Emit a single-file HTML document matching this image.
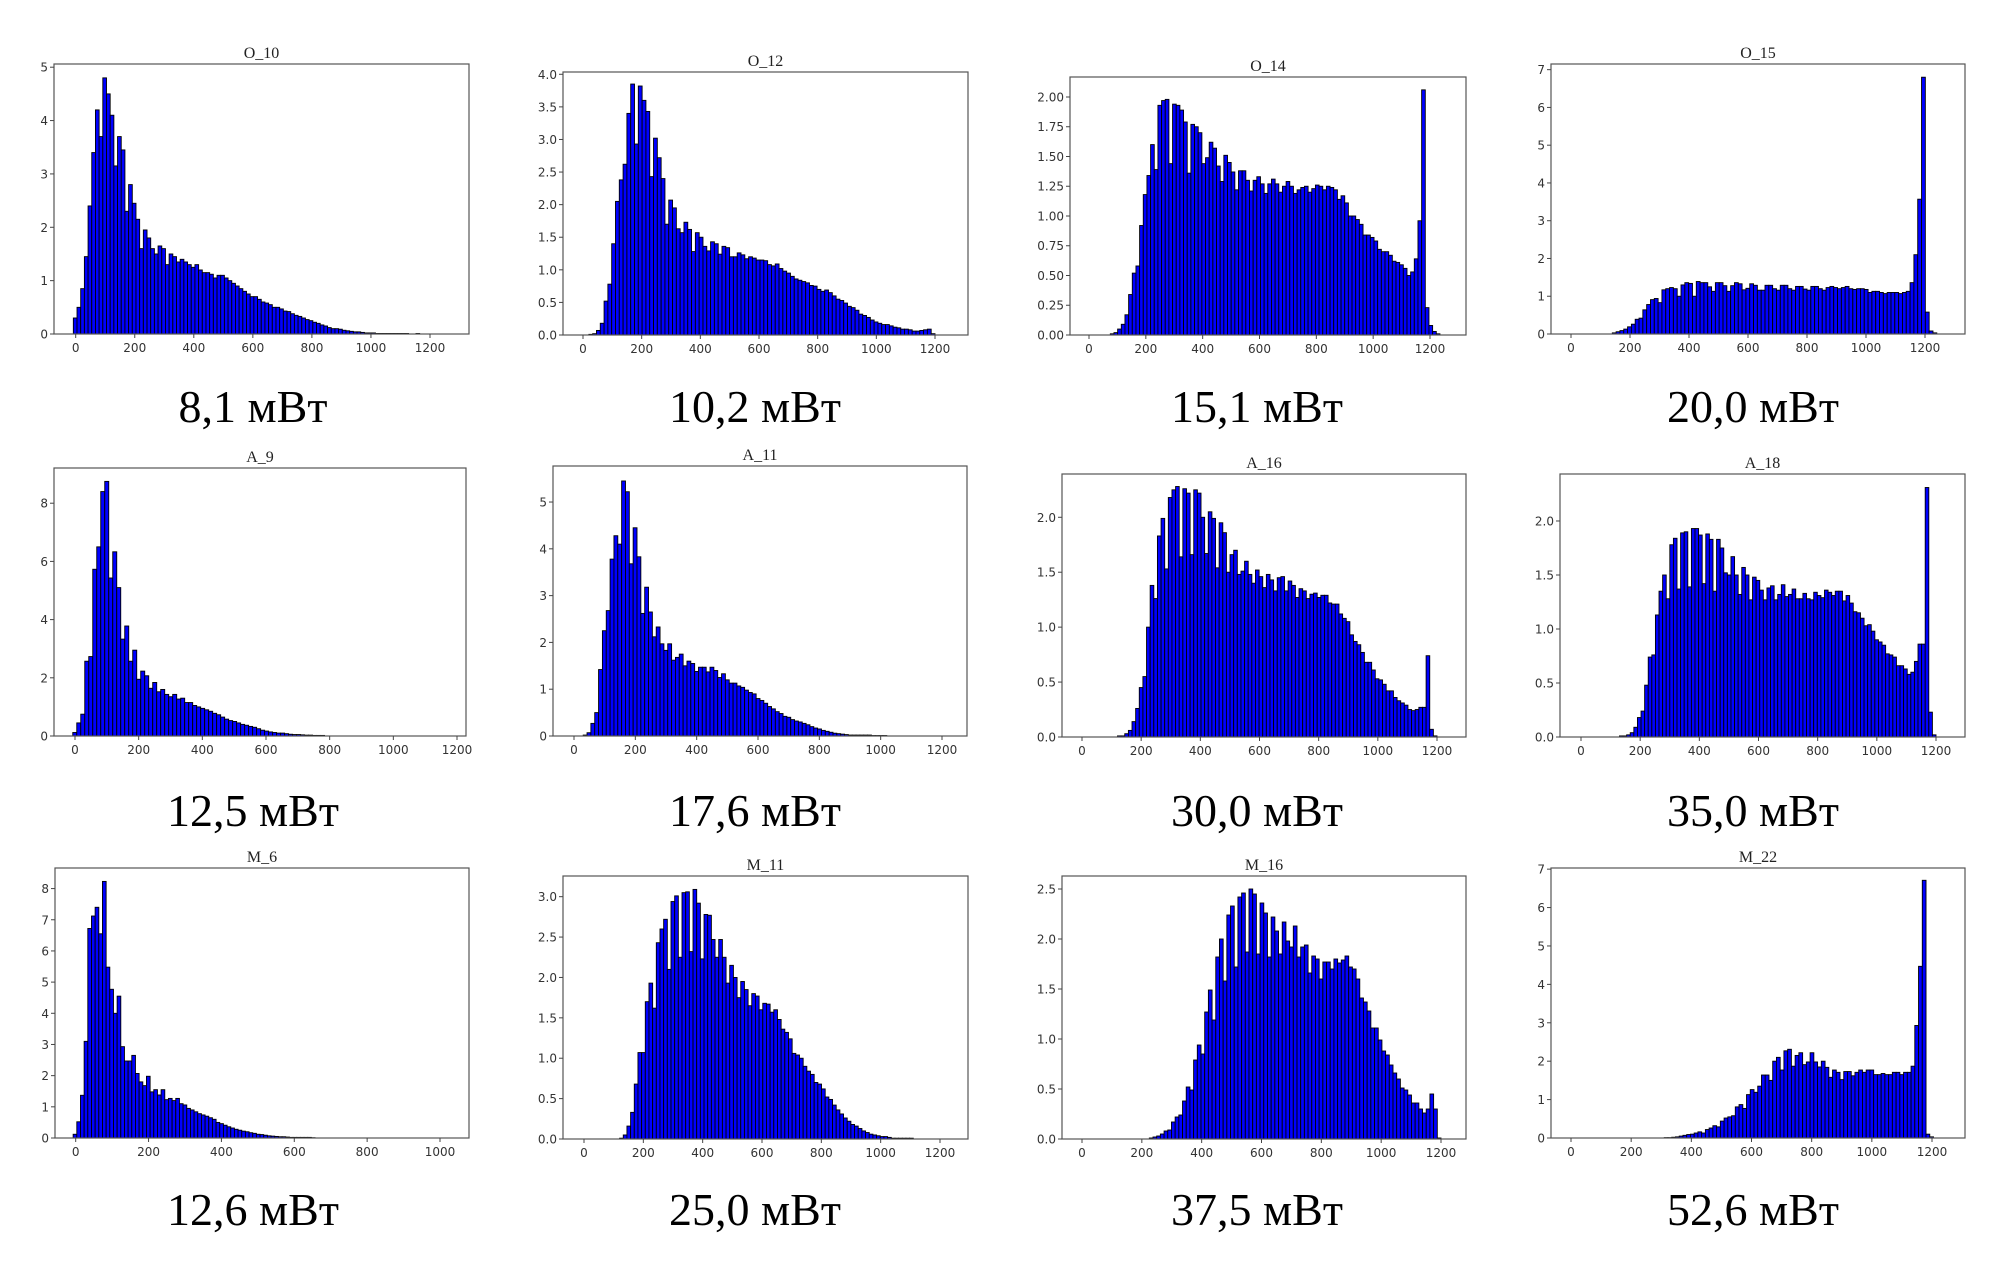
<!DOCTYPE html>
<html><head><meta charset="utf-8"><style>
html,body{margin:0;padding:0;background:#fff;}
svg{display:block;}
.tk{font-family:"DejaVu Sans","Liberation Sans",sans-serif;font-size:12px;fill:#333;}
.tt{font-family:"Liberation Serif",serif;font-size:16px;fill:#222;}
.big{font-family:"Liberation Serif","DejaVu Serif",serif;font-size:46px;fill:#000;}
</style></head><body>
<svg id="fig" width="1992" height="1268" viewBox="0 0 1992 1268" xmlns="http://www.w3.org/2000/svg"></svg>
<script>
const panelTitles = ["O_10","O_12","O_14","O_15","A_9","A_11","A_16","A_18","M_6","M_11","M_16","M_22"];
const powerLabels = ["8,1 мВт","10,2 мВт","15,1 мВт","20,0 мВт","12,5 мВт","17,6 мВт","30,0 мВт","35,0 мВт","12,6 мВт","25,0 мВт","37,5 мВт","52,6 мВт"];
const binStart = [-8,20,75,140,-7,30,120,130,-7,120,225,310];
const binEnd = [1190,1200,1235,1240,784,1020,1200,1200,657,1110,1200,1205];
const yMax = [5.06,4.035,2.168,7.15,9.21,5.77,2.394,2.435,8.66,3.256,2.63,7.03];
const yTickStep = [1,0.5,0.25,1,2,1,0.5,0.5,1,0.5,0.5,1];
const yTickTop = [5,4,2,7,8,5,2,2,8,3,2.5,7];
const yTickDecimals = [0,1,2,0,0,0,1,1,0,1,1,0];
const xTickMax = [1200,1200,1200,1200,1200,1200,1200,1200,1000,1200,1200,1200];
const xTickStep = 200;

const h_O10 = [0.3,0.5,0.85,1.45,2.4,3.4,4.2,3.7,4.8,4.5,4.1,3.15,3.7,3.45,2.3,2.8,2.45,2.15,1.6,1.95,1.8,1.6,1.5,1.65,1.6,1.3,1.5,1.45,1.35,1.4,1.35,1.3,1.25,1.3,1.2,1.15,1.15,1.12,1.05,1.1,1.1,1.05,1.0,0.95,0.9,0.85,0.8,0.75,0.7,0.7,0.65,0.6,0.58,0.55,0.5,0.5,0.47,0.43,0.42,0.38,0.35,0.33,0.3,0.27,0.25,0.22,0.2,0.17,0.15,0.12,0.1,0.1,0.09,0.07,0.06,0.05,0.04,0.04,0.03,0.02,0.02,0.02,0.01,0.01,0.01,0.01,0.01,0.01,0.01,0.01,0.01,0,0,0.01,0,0];
const h_O12 = [0.01,0.02,0.07,0.18,0.52,0.78,1.4,2.05,2.38,2.62,3.4,3.85,2.93,3.82,3.6,3.43,2.43,3.02,2.72,2.4,1.7,2.07,1.95,1.63,1.57,1.73,1.62,1.28,1.57,1.5,1.36,1.29,1.43,1.4,1.24,1.36,1.34,1.2,1.2,1.26,1.23,1.17,1.2,1.18,1.15,1.15,1.14,1.08,1.06,1.09,1.02,0.98,0.95,0.9,0.86,0.84,0.82,0.8,0.76,0.75,0.7,0.67,0.69,0.65,0.6,0.55,0.53,0.49,0.44,0.42,0.38,0.32,0.3,0.27,0.23,0.2,0.18,0.16,0.16,0.14,0.12,0.11,0.09,0.09,0.08,0.06,0.06,0.07,0.08,0.09,0.02];
const h_O14 = [0.01,0.02,0.05,0.09,0.17,0.34,0.52,0.58,0.92,1.18,1.34,1.6,1.39,1.93,1.97,1.98,1.44,1.94,1.93,1.89,1.79,1.36,1.77,1.75,1.7,1.44,1.49,1.62,1.57,1.42,1.29,1.51,1.45,1.37,1.22,1.38,1.38,1.3,1.21,1.3,1.33,1.27,1.19,1.27,1.31,1.27,1.2,1.25,1.29,1.25,1.19,1.22,1.24,1.25,1.2,1.23,1.26,1.25,1.22,1.25,1.24,1.22,1.14,1.17,1.11,1.0,1.0,0.97,0.93,0.84,0.84,0.82,0.79,0.72,0.7,0.7,0.67,0.62,0.61,0.59,0.56,0.5,0.53,0.64,0.96,2.06,0.23,0.08,0.03,0.01];
const h_O15 = [0.03,0.06,0.09,0.13,0.19,0.26,0.39,0.42,0.64,0.78,0.91,0.94,0.83,1.17,1.2,1.23,1.2,1.0,1.3,1.36,1.34,1.0,1.39,1.36,1.36,1.25,1.13,1.36,1.36,1.28,1.13,1.28,1.36,1.33,1.17,1.21,1.33,1.29,1.16,1.16,1.29,1.29,1.2,1.16,1.29,1.29,1.2,1.16,1.26,1.26,1.19,1.16,1.26,1.26,1.2,1.16,1.23,1.26,1.23,1.2,1.23,1.26,1.2,1.18,1.2,1.2,1.18,1.1,1.13,1.13,1.1,1.07,1.1,1.1,1.1,1.07,1.1,1.13,1.36,2.1,3.57,6.8,0.58,0.08,0.03];
const h_A9 = [0.12,0.45,0.75,2.57,2.73,5.73,6.5,8.4,8.75,5.43,6.33,5.1,3.33,3.78,2.57,2.95,1.95,2.23,2.07,1.64,1.84,1.52,1.6,1.43,1.35,1.43,1.27,1.3,1.15,1.15,1.05,1.0,0.95,0.9,0.85,0.78,0.73,0.65,0.58,0.53,0.5,0.45,0.4,0.37,0.33,0.3,0.25,0.2,0.17,0.14,0.12,0.1,0.1,0.08,0.06,0.05,0.05,0.04,0.03,0.03,0.02,0.02,0.02];
const h_A11 = [0.02,0.07,0.27,0.5,1.42,2.25,2.68,3.78,4.28,4.1,5.45,5.22,3.68,4.45,3.83,2.62,3.18,2.65,2.12,2.33,1.97,1.83,1.97,1.62,1.68,1.75,1.5,1.6,1.55,1.38,1.47,1.47,1.37,1.47,1.4,1.25,1.33,1.2,1.13,1.13,1.07,1.04,0.98,0.93,0.9,0.8,0.76,0.7,0.63,0.58,0.52,0.48,0.42,0.4,0.35,0.32,0.3,0.27,0.24,0.2,0.17,0.15,0.12,0.1,0.08,0.06,0.05,0.04,0.03,0.02,0.02,0.02,0.02,0.02,0.02,0.01,0.01,0.01,0.01];
const h_A16 = [0.01,0.01,0.03,0.06,0.14,0.26,0.45,0.55,1.0,1.38,1.26,1.83,1.99,1.53,2.18,2.25,2.28,1.64,2.26,2.22,1.66,2.25,2.22,2.0,1.67,2.05,1.99,1.54,1.95,1.86,1.5,1.66,1.7,1.48,1.51,1.6,1.48,1.4,1.52,1.46,1.36,1.48,1.43,1.33,1.45,1.46,1.33,1.42,1.38,1.27,1.35,1.33,1.26,1.3,1.31,1.27,1.29,1.29,1.22,1.21,1.21,1.12,1.08,1.05,0.93,0.87,0.84,0.77,0.68,0.68,0.61,0.53,0.52,0.48,0.42,0.42,0.36,0.33,0.31,0.29,0.25,0.24,0.25,0.27,0.27,0.74,0.07,0.01];
const h_A18 = [0.01,0.01,0.02,0.04,0.09,0.18,0.24,0.48,0.74,0.76,1.13,1.35,1.5,1.28,1.78,1.84,1.37,1.89,1.9,1.39,1.93,1.93,1.87,1.42,1.88,1.83,1.35,1.83,1.75,1.52,1.5,1.67,1.5,1.32,1.57,1.5,1.27,1.48,1.45,1.36,1.27,1.38,1.4,1.27,1.32,1.41,1.3,1.32,1.37,1.28,1.28,1.33,1.28,1.27,1.34,1.31,1.29,1.36,1.34,1.31,1.35,1.35,1.26,1.31,1.24,1.16,1.15,1.1,1.03,1.04,0.98,0.9,0.88,0.85,0.77,0.76,0.74,0.66,0.66,0.63,0.58,0.6,0.7,0.86,0.86,2.31,0.23,0.02];
const h_M6 = [0.12,0.52,1.37,3.1,6.72,7.12,7.4,6.55,8.23,5.48,4.77,4.0,4.55,2.93,2.47,2.47,2.65,2.07,1.8,1.68,1.98,1.48,1.55,1.38,1.55,1.23,1.27,1.2,1.27,1.1,1.06,0.95,0.9,0.84,0.78,0.74,0.7,0.65,0.6,0.5,0.46,0.41,0.36,0.32,0.28,0.25,0.22,0.2,0.17,0.15,0.12,0.11,0.09,0.07,0.06,0.05,0.04,0.04,0.03,0.02,0.02,0.02,0.02,0.02,0.02,0.01];
const h_M11 = [0.01,0.05,0.16,0.33,0.68,1.07,1.07,1.7,1.93,1.62,2.43,2.6,2.72,2.1,2.94,3.01,2.25,3.05,3.06,2.32,3.09,2.92,2.23,2.78,2.77,2.47,2.25,2.47,2.25,1.93,2.15,2.0,1.75,1.95,1.85,1.65,1.8,1.77,1.6,1.68,1.67,1.57,1.6,1.48,1.36,1.32,1.24,1.06,1.04,1.0,0.9,0.84,0.8,0.7,0.68,0.62,0.52,0.49,0.42,0.36,0.31,0.26,0.22,0.18,0.16,0.13,0.1,0.08,0.06,0.05,0.04,0.03,0.03,0.02,0.01,0.01,0.01,0.01,0.01,0.01];
const h_M16 = [0.01,0.02,0.03,0.05,0.08,0.09,0.17,0.22,0.24,0.38,0.52,0.49,0.79,0.94,0.85,1.27,1.49,1.19,1.82,2.0,1.58,2.24,2.33,1.72,2.42,2.46,1.87,2.5,2.45,1.85,2.36,2.26,1.82,2.22,2.08,1.85,2.17,1.98,1.92,2.13,1.82,1.92,1.94,1.66,1.83,1.8,1.6,1.77,1.77,1.7,1.8,1.76,1.79,1.83,1.72,1.7,1.6,1.41,1.37,1.28,1.11,1.11,0.99,0.88,0.84,0.74,0.66,0.6,0.51,0.49,0.44,0.36,0.36,0.3,0.26,0.3,0.45,0.3,0.01];
const h_M22 = [0.01,0.01,0.02,0.03,0.05,0.07,0.09,0.1,0.13,0.16,0.13,0.22,0.26,0.32,0.29,0.44,0.52,0.55,0.58,0.81,0.87,0.77,1.13,1.26,1.19,1.35,1.64,1.64,1.5,2.0,2.1,1.77,2.27,2.31,1.87,2.15,2.22,1.91,1.98,2.22,1.98,1.85,2.0,1.84,1.58,1.77,1.71,1.52,1.73,1.73,1.62,1.71,1.77,1.71,1.77,1.77,1.65,1.65,1.68,1.65,1.65,1.71,1.71,1.65,1.71,1.71,1.87,2.93,4.47,6.71,0.1,0.03];
const heights = [h_O10,h_O12,h_O14,h_O15,h_A9,h_A11,h_A16,h_A18,h_M6,h_M11,h_M16,h_M22];

// layout (pixel geometry, not data)
const layout = [
 {L:54,T:64,R:469,B:334,x0:75.7,xs:(430-75.7)/1200},
 {L:563,T:72,R:968,B:335,x0:583,xs:(935-583)/1200},
 {L:1070,T:77,R:1466,B:335,x0:1089,xs:(1430-1089)/1200},
 {L:1551,T:64,R:1965,B:334,x0:1571,xs:(1925-1571)/1200},
 {L:54,T:468,R:466,B:736,x0:75,xs:(457-75)/1200},
 {L:553,T:466,R:967,B:736,x0:574,xs:(942-574)/1200},
 {L:1062,T:474,R:1466,B:737,x0:1082,xs:(1437-1082)/1200},
 {L:1560,T:474,R:1965,B:737,x0:1581,xs:(1936-1581)/1200},
 {L:55,T:868,R:469,B:1138,x0:75.7,xs:(440-75.7)/1000},
 {L:563,T:876,R:968,B:1139,x0:584,xs:(940-584)/1200},
 {L:1062,T:876,R:1466,B:1139,x0:1082,xs:(1441-1082)/1200},
 {L:1551,T:868,R:1965,B:1138,x0:1571,xs:(1932-1571)/1200}
];
const labelPos = [[253,422],[755,422],[1257,422],[1753,422],[253,826],[755,826],[1257,826],[1753,826],[253,1225],[755,1225],[1257,1225],[1753,1225]];

const NS="http://www.w3.org/2000/svg";
const svg=document.getElementById('fig');
function mk(tag,attrs,parent){const e=document.createElementNS(NS,tag);for(const k in attrs)e.setAttribute(k,attrs[k]);parent.appendChild(e);return e;}

for(let p=0;p<12;p++){
  const g=mk('g',{},svg);
  
  
  const lo=layout[p];
  const xS=v=>lo.x0+v*lo.xs;
  const yS=v=>lo.B-(v/yMax[p])*(lo.B-lo.T);
  const data=heights[p];
  const w=(binEnd[p]-binStart[p])/data.length;
  const bars=mk('g',{},g);
  
  
  for(let i=0;i<data.length;i++){
    const v=data[i]; if(v<=0) continue;
    const xa=xS(binStart[p]+i*w), xb=xS(binStart[p]+(i+1)*w);
    const r=mk('rect',{x:xa,y:yS(v),width:Math.max(0.5,xb-xa),height:lo.B-yS(v),fill:'#0000ff',stroke:'#000','stroke-width':0.9},bars);
    
    
  }
  const fr=mk('rect',{x:lo.L,y:lo.T,width:lo.R-lo.L,height:lo.B-lo.T,fill:'none',stroke:'#555','stroke-width':1.2},g);
  
  
  // y ticks
  const nY=Math.round(yTickTop[p]/yTickStep[p]);
  for(let k=0;k<=nY;k++){
    const v=k*yTickStep[p]; const y=yS(v);
    mk('line',{x1:lo.L-4,x2:lo.L,y1:y,y2:y,stroke:'#444','stroke-width':1},g);
    const t=mk('text',{x:lo.L-6,y:y+4.5,'text-anchor':'end',class:'tk'},g);
    t.textContent=v.toFixed(yTickDecimals[p]);
    
    
  }
  for(let v=0;v<=xTickMax[p];v+=xTickStep){
    const x=xS(v);
    mk('line',{x1:x,x2:x,y1:lo.B,y2:lo.B+4,stroke:'#444','stroke-width':1},g);
    const t=mk('text',{x:x,y:lo.B+18,'text-anchor':'middle',class:'tk'},g);
    t.textContent=String(v);
    
    
  }
  const tt=mk('text',{x:(lo.L+lo.R)/2,y:lo.T-6,'text-anchor':'middle',class:'tt'},g);
  tt.textContent=panelTitles[p];
  
  
  const bl=mk('text',{x:labelPos[p][0],y:labelPos[p][1],'text-anchor':'middle',class:'big'},svg);
  bl.textContent=powerLabels[p];
  
  
}
</script>
</body></html>
